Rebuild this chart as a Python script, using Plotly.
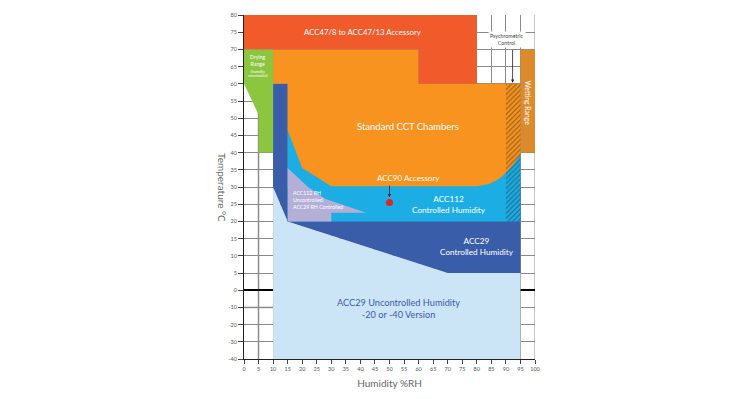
import plotly.graph_objects as go

# ---------------- data ----------------
x_ticks = list(range(0, 101, 5))
y_ticks = [-40, -30, -20, -10, 0, 5, 10, 15, 20, 25, 30, 35, 40, 45, 50, 55, 60, 65, 70, 75, 80]

# region outlines (humidity %RH, temperature °C)
acc29_unc_x = [10, 95, 95, 70, 15, 10]
acc29_unc_y = [-40, -40, 5, 5, 20, 30]

acc29_ctl_x = [10, 15, 15, 95, 95, 70, 15, 10]
acc29_ctl_y = [60, 60, 30, 30, 5, 5, 20, 30]

acc112_x = [15, 95, 95, 15]
acc112_y = [20, 20, 41, 47]

lav_x = [15, 22, 28, 42, 30, 30, 15]
lav_y = [35.5, 30, 26.5, 22.5, 22.5, 20, 20]

std_x = [10, 60, 60, 95, 95, 93, 91, 89, 87, 84, 80, 30, 20, 15, 15, 10]
std_y = [70, 70, 60, 60, 39.5, 37, 35, 33.3, 32, 30.8, 30.2, 30.2, 35.5, 46.5, 60, 60]

acc47_x = [0, 80, 80, 60, 60, 0]
acc47_y = [80, 80, 60, 60, 70, 70]

dry_x = [0, 10, 10, 5, 5, 0]
dry_y = [70, 70, 40, 40, 51, 60]

wet_x = [95, 100, 100, 95]
wet_y = [70, 70, 40, 40]

hatch_x = [90, 95, 95, 90]
hatch_y = [60, 60, 20, 20]

acc90_point = (50, 25.5)


def ty(v):
    """Temperature axis: 5 °C per step above 0, 10 °C per step below 0."""
    return v if v >= 0 else v / 2.0


def tys(vals):
    return [ty(v) for v in vals]


fig = go.Figure()


def region(xs, ys, color, name):
    fig.add_trace(go.Scatter(x=xs, y=tys(ys), fill="toself", fillcolor=color,
                             mode="lines", line=dict(width=0, color=color),
                             hoverinfo="skip", name=name, showlegend=False))


region(acc29_unc_x, acc29_unc_y, "#cbe5f7", "ACC29 Uncontrolled")
region(acc29_ctl_x, acc29_ctl_y, "#3a5daa", "ACC29 Controlled")
region(acc112_x, acc112_y, "#1bade4", "ACC112")
region(lav_x, lav_y, "#b4afd7", "ACC112 RH uncontrolled")
region(std_x, std_y, "#f7931e", "Standard")
region(acc47_x, acc47_y, "#f15a2b", "ACC47")
region(dry_x, dry_y, "#8cc63f", "Drying")
region(wet_x, wet_y, "#dc8a2c", "Wetting")

fig.add_trace(go.Scatter(x=hatch_x, y=tys(hatch_y), fill="toself",
                         fillcolor="rgba(0,0,0,0)", mode="lines",
                         line=dict(width=0),
                         fillpattern=dict(shape="/", fgcolor="#222222",
                                          bgcolor="rgba(0,0,0,0)", size=3.5, solidity=0.3),
                         hoverinfo="skip", showlegend=False))

fig.add_trace(go.Scatter(x=[acc90_point[0]], y=[ty(acc90_point[1])], mode="markers",
                         marker=dict(color="#e2242a", size=7, line=dict(width=0)),
                         hoverinfo="skip", showlegend=False))

FONT = "Lato"
W = "white"


def label(x, y, text, size, color=W, **kw):
    fig.add_annotation(x=x, y=ty(y), text=text, showarrow=False,
                       font=dict(family=FONT, size=size, color=color), **kw)


label(40.7, 75, "ACC47/8 to ACC47/13 Accessory", 7.8)
label(4.9, 66.8, "Drying<br>Range", 5.2)
label(4.9, 62.8, "(humidity<br>uncontrolled)", 3.4)
label(56.5, 47.5, "Standard CCT Chambers", 9.5)
label(56.5, 32.6, "ACC90 Accessory", 8)
label(70.3, 25, "ACC112<br>Controlled Humidity", 8.2)
label(80.2, 12.7, "ACC29<br>Controlled Humidity", 8.2)
label(53, -10.6, "ACC29 Uncontrolled Humidity<br>-20 or -40 Version", 9.2, color="#3b5ca8")
label(16, 26.3, "ACC112 RH<br>Uncontrolled,<br>ACC29 RH Controlled", 5.2, xanchor="left", align="left")
label(90.3, 72.8, "Psychrometric<br>Control", 5.3, color="#444444", bgcolor="white")
label(97.6, 54.5, "Wetting Range", 6.8, textangle=90)

# arrows
fig.add_annotation(x=acc90_point[0], y=ty(27.0), ax=acc90_point[0], ay=ty(30.8),
                   axref="x", ayref="y", xref="x", yref="y", text="", showarrow=True,
                   arrowhead=2, arrowsize=0.8, arrowwidth=0.8, arrowcolor="#222")
fig.add_annotation(x=92.3, y=60.3, ax=92.3, ay=70.3,
                   axref="x", ayref="y", xref="x", yref="y", text="", showarrow=True,
                   arrowhead=2, arrowsize=0.8, arrowwidth=0.8, arrowcolor="#222")

# y-axis title reading top to bottom
fig.add_annotation(x=-0.0756, y=0.5, xref="paper", yref="paper", text="Temperature °C",
                   showarrow=False, textangle=90, xanchor="center", yanchor="middle",
                   font=dict(family=FONT, size=10, color="#666"))

# heavier reference lines
fig.add_shape(type="line", x0=5, x1=5, y0=ty(-40), y1=ty(80), layer="below",
              line=dict(color="#c8c8c8", width=2))
fig.add_shape(type="line", x0=100, x1=100, y0=ty(-40), y1=ty(80), layer="below",
              line=dict(color="#c8c8c8", width=2))
fig.add_shape(type="line", x0=0, x1=10, y0=ty(-10), y1=ty(-10), layer="below",
              line=dict(color="#c8c8c8", width=2))

tickfont = dict(family=FONT, size=5.5, color="#555")

# page body adds an 8px offset; compensate so the plot area lands at 244..535 x 15..359
fig.update_layout(
    width=739, height=383,
    margin=dict(l=236, r=212, t=7, b=32),
    plot_bgcolor="white", paper_bgcolor="white",
    showlegend=False,
    xaxis=dict(range=[0, 100], tickvals=x_ticks, ticktext=[str(v) for v in x_ticks],
               ticks="outside", ticklen=4, tickcolor="#444", tickwidth=0.8,
               showgrid=True, gridcolor="#8a8a8a", gridwidth=0.8,
               zeroline=False, showline=True, linecolor="#222", linewidth=1,
               tickfont=tickfont, automargin=False,
               title=dict(text="Humidity %RH", font=dict(family=FONT, size=10, color="#666"),
                          standoff=9)),
    yaxis=dict(range=[ty(-40), 80], tickvals=tys(y_ticks), ticktext=[str(v) for v in y_ticks],
               ticks="outside", ticklen=5, tickcolor="#444", tickwidth=0.8,
               showgrid=True, gridcolor="#8a8a8a", gridwidth=0.8,
               zeroline=True, zerolinecolor="black", zerolinewidth=2,
               showline=True, linecolor="#222", linewidth=1,
               tickfont=tickfont, automargin=False),
)

fig.write_html("out.html")
